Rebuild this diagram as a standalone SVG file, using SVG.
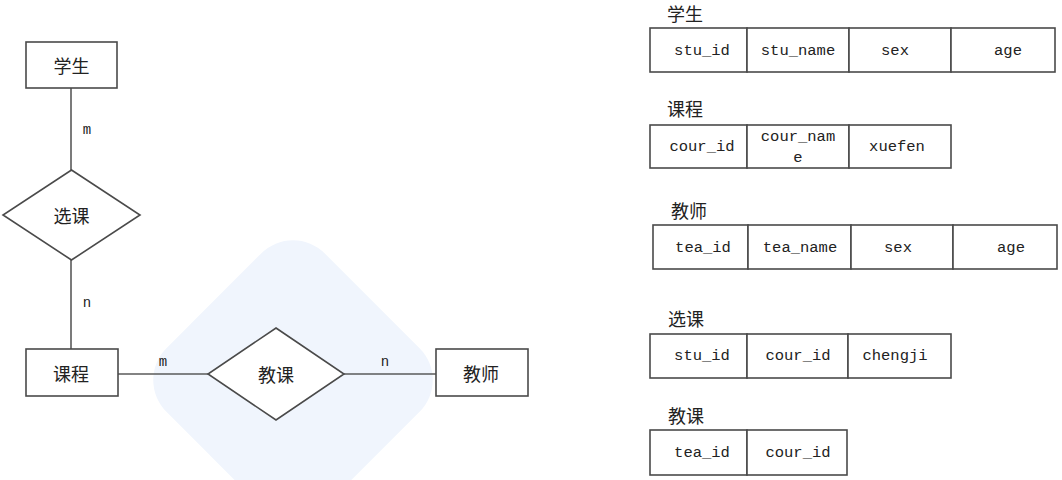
<svg xmlns="http://www.w3.org/2000/svg" width="1062" height="480" viewBox="0 0 1062 480">
<style>
.box{fill:#fff;stroke:#4a4a4a;stroke-width:1.6}
.cell{fill:#fff;stroke:#4a4a4a;stroke-width:1.6}
.conn{stroke:#5a5a5a;stroke-width:1.6;fill:none}
.cn{font-family:"Noto Sans CJK SC","Noto Sans",sans-serif;font-size:18px;fill:#222;text-anchor:middle;dominant-baseline:central}
.tt{font-family:"Noto Sans CJK SC","Noto Sans",sans-serif;font-size:18px;fill:#222;dominant-baseline:central}
.mono{font-family:"Liberation Mono","DejaVu Sans Mono",monospace;font-size:15.5px;fill:#222;text-anchor:middle;dominant-baseline:central}
.card{font-family:"Liberation Mono","DejaVu Sans Mono",monospace;font-size:14px;fill:#222;text-anchor:middle;dominant-baseline:central}
</style>
<rect width="1062" height="480" fill="#fff"/>
<rect x="-112" y="-112" width="224" height="224" rx="45" transform="translate(293,380) rotate(45)" fill="#f0f5fd"/>

<g id="connectors">
<line class="conn" x1="71" y1="88" x2="71" y2="170"/>
<line class="conn" x1="71" y1="260" x2="71" y2="349"/>
<line class="conn" x1="118" y1="374" x2="208" y2="374"/>
<line class="conn" x1="344" y1="374" x2="436" y2="374"/>
<text class="card" x="87" y="130">m</text>
<text class="card" x="87" y="303">n</text>
<text class="card" x="163" y="362">m</text>
<text class="card" x="385" y="362">n</text>
</g>

<g id="node-student">
<rect class="box" x="26" y="42" width="91" height="46"/>
<text class="cn" x="71.5" y="65">学生</text>
</g>
<g id="node-xuanke">
<polygon class="box" points="71.5,170 140,215 71.5,260 3,215"/>
<text class="cn" x="71.5" y="215">选课</text>
</g>
<g id="node-course">
<rect class="box" x="26" y="349" width="92" height="47"/>
<text class="cn" x="71" y="373">课程</text>
</g>
<g id="node-jiaoke">
<polygon class="box" points="276,328 344,374 276,420 208,374"/>
<text class="cn" x="276" y="374">教课</text>
</g>
<g id="node-teacher">
<rect class="box" x="436" y="349" width="92" height="47"/>
<text class="cn" x="481" y="373">教师</text>
</g>

<g id="table-student">
<text class="tt" x="667" y="13">学生</text>
<rect class="cell" x="650" y="28" width="97" height="44"/>
<rect class="cell" x="747" y="28" width="102" height="44"/>
<rect class="cell" x="849" y="28" width="102" height="44"/>
<rect class="cell" x="951" y="28" width="104" height="44"/>
<text class="mono" x="702" y="51">stu_id</text>
<text class="mono" x="798" y="51">stu_name</text>
<text class="mono" x="895" y="51">sex</text>
<text class="mono" x="1008" y="51">age</text>
</g>

<g id="table-course">
<text class="tt" x="667" y="108">课程</text>
<rect class="cell" x="650" y="125" width="97" height="43"/>
<rect class="cell" x="747" y="125" width="102" height="43"/>
<rect class="cell" x="849" y="125" width="102" height="43"/>
<text class="mono" x="702" y="147">cour_id</text>
<text class="mono" x="798" y="137">cour_nam</text>
<text class="mono" x="798" y="158">e</text>
<text class="mono" x="897" y="147">xuefen</text>
</g>

<g id="table-teacher">
<text class="tt" x="671" y="210">教师</text>
<rect class="cell" x="653" y="225" width="95" height="44"/>
<rect class="cell" x="748" y="225" width="103" height="44"/>
<rect class="cell" x="851" y="225" width="102" height="44"/>
<rect class="cell" x="953" y="225" width="104" height="44"/>
<text class="mono" x="703" y="248">tea_id</text>
<text class="mono" x="800" y="248">tea_name</text>
<text class="mono" x="898" y="248">sex</text>
<text class="mono" x="1011" y="248">age</text>
</g>

<g id="table-xuanke">
<text class="tt" x="668" y="318">选课</text>
<rect class="cell" x="650" y="334" width="97" height="44"/>
<rect class="cell" x="747" y="334" width="101" height="44"/>
<rect class="cell" x="848" y="334" width="103" height="44"/>
<text class="mono" x="702" y="356">stu_id</text>
<text class="mono" x="798" y="356">cour_id</text>
<text class="mono" x="895" y="356">chengji</text>
</g>

<g id="table-jiaoke">
<text class="tt" x="668" y="415">教课</text>
<rect class="cell" x="650" y="430" width="97" height="45"/>
<rect class="cell" x="747" y="430" width="100" height="45"/>
<text class="mono" x="702" y="453">tea_id</text>
<text class="mono" x="798" y="453">cour_id</text>
</g>
</svg>
